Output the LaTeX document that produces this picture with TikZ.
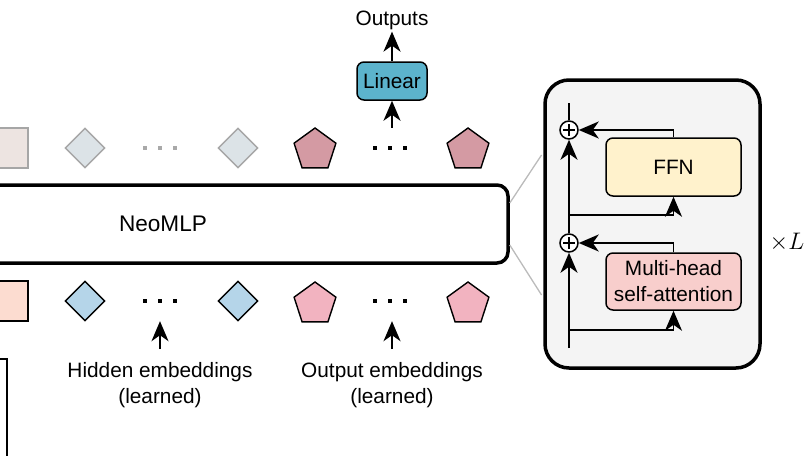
\RequirePackage{fix-cm}
\documentclass[tikz,border=0pt]{standalone}
\usepackage{fontspec}
\setmainfont{Liberation Sans}
\usetikzlibrary{shapes.geometric,arrows.meta,calc}
\definecolor{sqtop}{HTML}{EDE4E1}
\definecolor{grayb}{HTML}{A6A6A6}
\definecolor{diatop}{HTML}{DCE3E7}
\definecolor{penttop}{HTML}{D49AA3}
\definecolor{sqbot}{HTML}{FCDCD0}
\definecolor{diabot}{HTML}{B5D5E9}
\definecolor{pentbot}{HTML}{F2B3C0}
\definecolor{lincol}{HTML}{5CB3CC}
\definecolor{ffncol}{HTML}{FFF2CC}
\definecolor{mhacol}{HTML}{F8CECC}
\definecolor{panelc}{HTML}{F4F4F4}
\definecolor{dotgray}{HTML}{A9A9A9}
\definecolor{linkgray}{HTML}{BBBBBB}
\tikzset{bigtip/.tip={Stealth[length=20pt,width=17pt,inset=6pt]}}
\begin{document}
\begin{tikzpicture}[x=1pt,y=-1pt,
  every node/.style={font=\fontsize{20.8}{26}\selectfont},
  arr/.style={line width=1.9pt,-bigtip},
  plain/.style={line width=1.9pt},
  dia/.style={diamond,minimum width=40pt,minimum height=40pt,inner sep=0pt,line width=1.4pt},
  pent/.style={regular polygon,regular polygon sides=5,minimum size=44pt,inner sep=0pt,line width=1.4pt,draw=black},
  sq/.style={rectangle,minimum width=40pt,minimum height=40pt,inner sep=0pt,line width=1.4pt},
  dotsbox/.style={minimum width=40pt,minimum height=40pt,inner sep=0pt},
  blk/.style={draw=black,line width=1.5pt,rounded corners=7pt,align=center,inner sep=0pt},
  addc/.style={circle,draw=black,fill=white,line width=1.5pt,minimum size=18pt,inner sep=0pt,
    path picture={\draw[line width=1.4pt]
      ([xshift=-6pt]path picture bounding box.center) -- ([xshift=6pt]path picture bounding box.center)
      ([yshift=-6pt]path picture bounding box.center) -- ([yshift=6pt]path picture bounding box.center);}},
]
\useasboundingbox (0,0) rectangle (808,455);
\clip (0,0) rectangle (808,455);

% ---------- top row ----------
\node[sq,draw=grayb,fill=sqtop] (sqt) at (8,148) {};
\node[dia,draw=grayb,fill=diatop] (dt1) at (85,148) {};
\node[dotsbox] (tdots1) at (160,148) {};
\foreach \dx in {-15,0,15} \fill[dotgray] (160+\dx-2,146) rectangle +(4,4);
\node[dia,draw=grayb,fill=diatop] (dt2) at (238,148) {};
\node[pent,fill=penttop] (pt1) at (315,150) {};
\node[dotsbox] (tdots2) at (390,148) {};
\foreach \dx in {-15,0,15} \fill[black] (390+\dx-2,146) rectangle +(4,4);
\node[pent,fill=penttop] (pt2) at (468,150) {};

% ---------- Linear / outputs ----------
\node[blk,fill=lincol,minimum width=70pt,minimum height=38pt] (lin) at (392,81) {Linear};
\node[inner sep=2pt] (out) at (392,20) {Outputs};
\draw[arr] ([xshift=2pt]tdots2.north) -- (lin.south);
\draw[arr] (lin.north) -- (out.south);

% ---------- NeoMLP ----------
\node[draw=black,line width=3.5pt,rounded corners=11pt,minimum width=690pt,minimum height=78pt,
  font=\fontsize{22.6}{27}\selectfont] (neo) at (163,224) {NeoMLP};

% ---------- bottom row ----------
\node[sq,draw=black,fill=sqbot] (sqb) at (8,301) {};
\node[dia,draw=black,fill=diabot] (db1) at (85,301) {};
\node[dotsbox] (hdots) at (160,301) {};
\foreach \dx in {-15,0,15} \fill[black] (160+\dx-2,299) rectangle +(4,4);
\node[dia,draw=black,fill=diabot] (db2) at (238,301) {};
\node[pent,fill=pentbot] (pb1) at (315,304) {};
\node[dotsbox] (odots) at (390,301) {};
\foreach \dx in {-15,0,15} \fill[black] (390+\dx-2,299) rectangle +(4,4);
\node[pent,fill=pentbot] (pb2) at (468,304) {};

\node[align=center] (hidl) at (160,385) {Hidden embeddings\\(learned)};
\node[align=center] (outl) at (392,385) {Output embeddings\\(learned)};
\coordinate (hidbase) at (160,349);
\coordinate (outbase) at (392,349);
\draw[arr] (hidbase) -- (hdots.south);
\draw[arr] (outbase) -- ([xshift=2pt]odots.south);

% partial box bottom-left
\draw[line width=2pt] (-10,359) -- (7,359) -- (7,470);

% ---------- transformer block panel ----------
\node[draw=black,fill=panelc,line width=3.5pt,rounded corners=24pt,minimum width=215pt,minimum height=288pt,inner sep=0pt] (panel) at (652.5,224) {};
\draw[linkgray,line width=1.3pt] ($(neo.east)+(0,-21)$) -- ($(panel.west)+(-1.7,-69)$);
\draw[linkgray,line width=1.3pt] ($(neo.east)+(0,21)$) -- ($(panel.west)+(-1.7,71)$);

\node[addc] (c1) at (569,130) {};
\node[addc] (c2) at (569,243) {};
\coordinate (mbot) at (569,348);
\coordinate (mtop) at (569,103);
\draw[arr] (mbot) -- (c2.south);
\draw[arr] (c2.north) -- (c1.south);
\draw[plain] (c1.north) -- (mtop);

\node[blk,fill=ffncol,minimum width=135pt,minimum height=58pt] (ffn) at (673.5,167) {FFN};
\node[blk,fill=mhacol,minimum width=135pt,minimum height=57pt] (mha) at (673.5,281.5) {Multi-head\\self-attention};
\coordinate (b1) at (569,330);
\coordinate (b2) at (569,215);
\draw[arr] (b1) -| (mha.south);
\draw[arr] (mha.north) |- (c2.east);
\draw[arr] (b2) -| (ffn.south);
\draw[arr] (ffn.north) |- (c1.east);

\node[inner sep=0pt] (xl) at (787,242) {\scalebox{1.15}{$\times L$}};
\end{tikzpicture}
\end{document}
